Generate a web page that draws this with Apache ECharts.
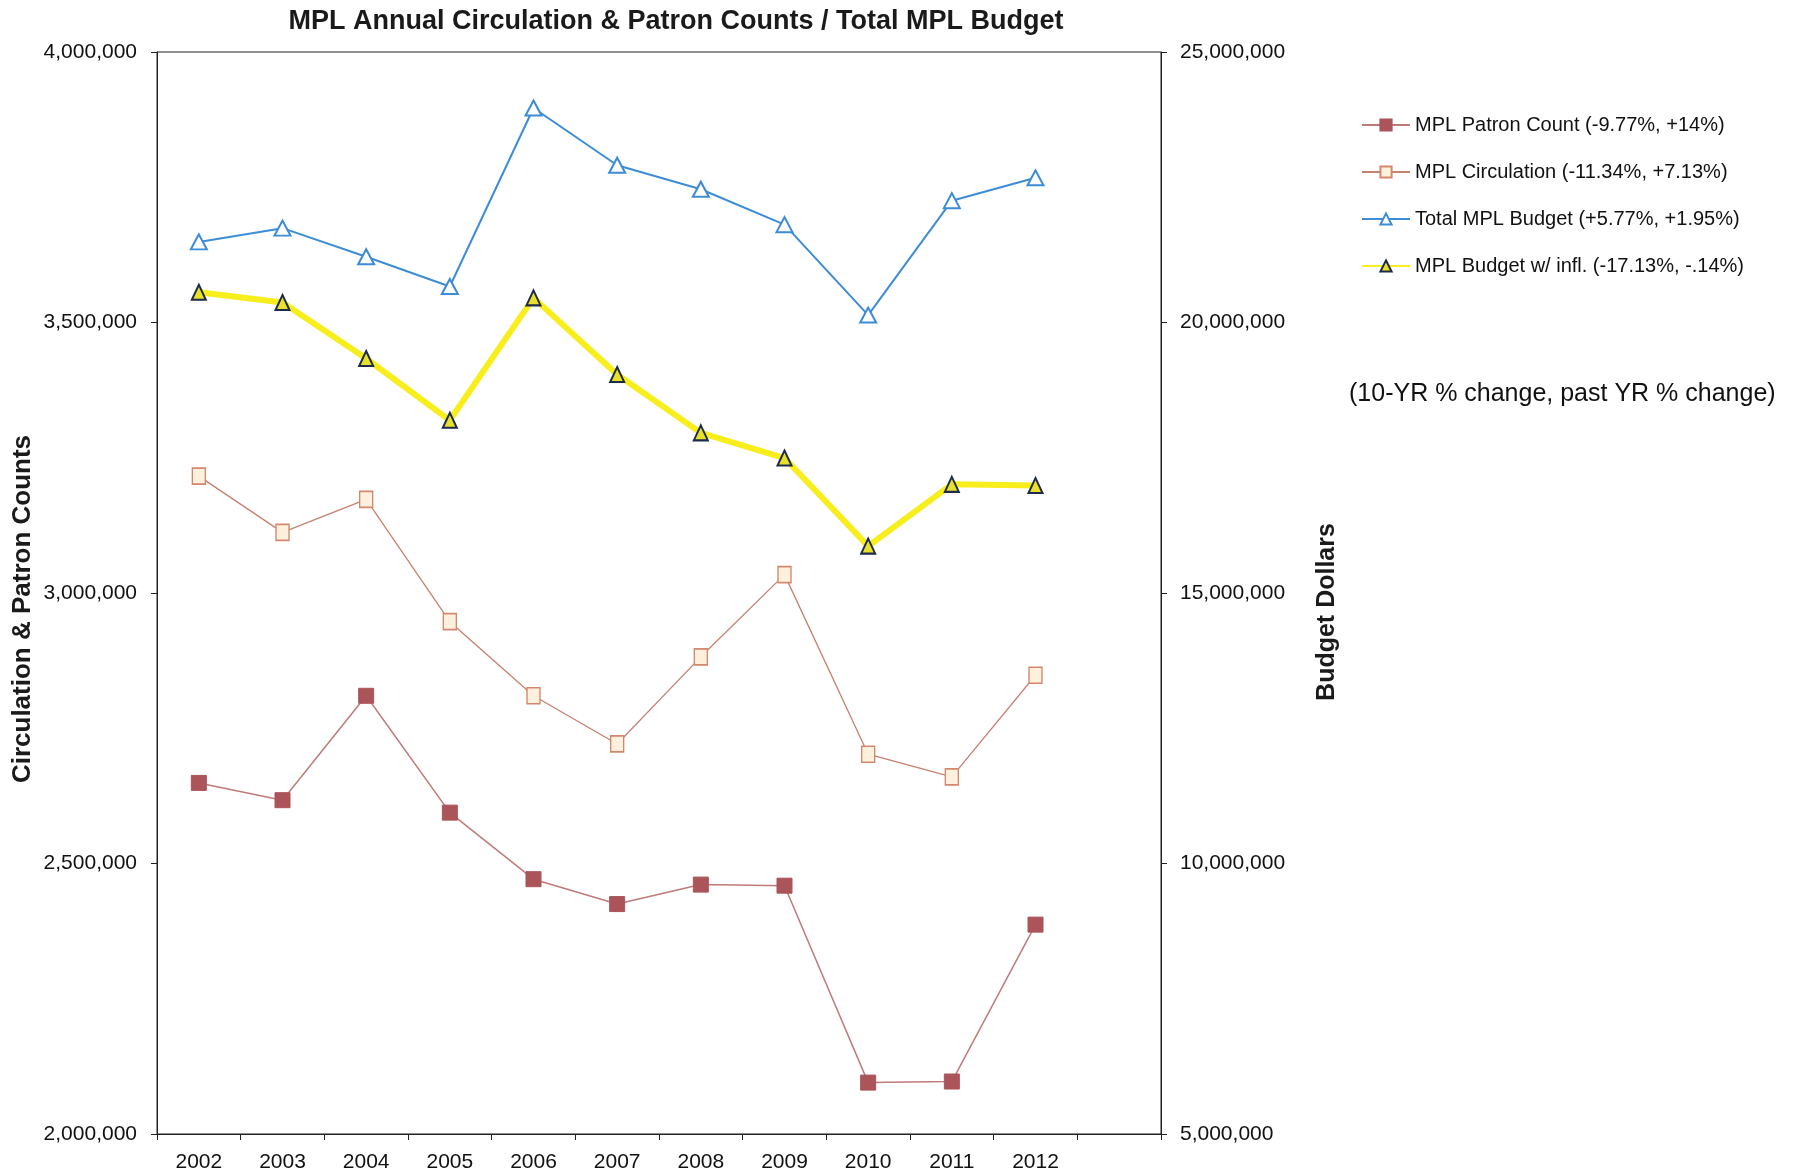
<!DOCTYPE html>
<html>
<head>
<meta charset="utf-8">
<script src="https://cdn.jsdelivr.net/npm/echarts@6/dist/echarts.min.js"></script>
<style>
html,body{margin:0;padding:0;background:#fff;}
#chart{width:1793px;height:1173px;}
</style>
</head>
<body>
<div id="chart"></div>
<script>
const years = ['2002','2003','2004','2005','2006','2007','2008','2009','2010','2011','2012',''];
const patronCount = [2649000,2617000,2810000,2594000,2471000,2425000,2461000,2459000,2095000,2097000,2387000];
const circulation = [3216000,3112000,3173000,2947000,2810000,2721000,2882000,3034000,2702000,2660000,2848000];
const totalBudget = [21490000,21744000,21216000,20666000,23964000,22907000,22463000,21808000,20137000,22252000,22674000];
const budgetInfl = [20560000,20370000,19334000,18192000,20455000,19038000,17960000,17495000,15867000,17008000,16987000];
const seriesNames = ['MPL Patron Count (-9.77%, +14%)','MPL Circulation (-11.34%, +7.13%)','Total MPL Budget (+5.77%, +1.95%)','MPL Budget w/ infl. (-17.13%, -.14%)'];
const leftTicks = [2000000, 4000000, 500000];
const rightTicks = [5000000, 25000000, 5000000];
const leftAxisName = 'Circulation & Patron Counts';
const rightAxisName = 'Budget Dollars';

const fmt = v => v.toLocaleString('en-US');
const chart = echarts.init(document.getElementById('chart'));
const FONT = 'Liberation Sans, Arial, sans-serif';
chart.setOption({
  backgroundColor: '#ffffff',
  animation: false,
  title: {
    text: 'MPL Annual Circulation & Patron Counts / Total MPL Budget',
    left: 671, top: 3, textAlign: 'center',
    textStyle: {fontFamily: FONT, fontSize: 27, fontWeight: 'bold', color: '#1a1a1a'}
  },
  grid: {left: 157, right: 632, top: 52, bottom: 39, outerBoundsMode: 'none', containLabel: false,
         show: true, borderColor: '#222', borderWidth: 1},
  legend: {
    orient: 'vertical', left: 1356, top: 110,
    itemWidth: 48, itemHeight: 14, itemGap: 27,
    data: seriesNames,
    textStyle: {fontFamily: FONT, fontSize: 20, color: '#111'}
  },
  graphic: [{
    type: 'text', left: 1349, top: 382,
    style: {text: '(10-YR % change, past YR % change)', font: '25px Liberation Sans, Arial, sans-serif', fill: '#111'}
  }, {
    type: 'text', x: 23, y: 609, rotation: Math.PI / 2,
    style: {text: leftAxisName, font: 'bold 26px Liberation Sans, Arial, sans-serif', fill: '#1a1a1a',
            align: 'center', verticalAlign: 'middle'}
  }, {
    type: 'text', x: 1327, y: 612, rotation: Math.PI / 2,
    style: {text: rightAxisName, font: 'bold 25px Liberation Sans, Arial, sans-serif', fill: '#1a1a1a',
            align: 'center', verticalAlign: 'middle'}
  }],
  xAxis: {
    type: 'category', data: years, boundaryGap: true,
    axisLine: {lineStyle: {color: '#222', width: 1}},
    axisTick: {show: true, alignWithLabel: false, length: 6, lineStyle: {color: '#222'}},
    axisLabel: {fontFamily: FONT, fontSize: 21, color: '#111', margin: 18, interval: 0}
  },
  yAxis: [{
    type: 'value', min: leftTicks[0], max: leftTicks[1], interval: leftTicks[2],
    axisLine: {show: true, lineStyle: {color: '#222'}},
    axisTick: {show: true, length: 6, lineStyle: {color: '#222'}},
    splitLine: {show: false},
    axisLabel: {fontFamily: FONT, fontSize: 21, color: '#111', margin: 20, formatter: fmt}
  }, {
    type: 'value', min: rightTicks[0], max: rightTicks[1], interval: rightTicks[2], position: 'right',
    axisLine: {show: true, lineStyle: {color: '#222'}},
    axisTick: {show: true, length: 6, lineStyle: {color: '#222'}},
    splitLine: {show: false},
    axisLabel: {fontFamily: FONT, fontSize: 21, color: '#111', margin: 19, formatter: fmt}
  }],
  series: [{
    name: seriesNames[0], type: 'line', yAxisIndex: 0, data: patronCount,
    symbol: 'rect', symbolSize: 15,
    lineStyle: {color: '#c07a78', width: 1.5},
    itemStyle: {color: '#ab5459', borderColor: '#ab5459', borderWidth: 1}
  }, {
    name: seriesNames[1], type: 'line', yAxisIndex: 0, data: circulation,
    symbol: 'rect', symbolSize: [13, 16],
    lineStyle: {color: '#c8806f', width: 1.3},
    itemStyle: {color: '#fdf1de', borderColor: '#d4876c', borderWidth: 1.5}
  }, {
    name: seriesNames[2], type: 'line', yAxisIndex: 1, data: totalBudget,
    symbol: 'triangle', symbolSize: [16, 15],
    lineStyle: {color: '#3d8cd6', width: 2},
    itemStyle: {color: '#ffffff', borderColor: '#3d8cd6', borderWidth: 2}
  }, {
    name: seriesNames[3], type: 'line', yAxisIndex: 1, data: budgetInfl,
    symbol: 'triangle', symbolSize: [14, 15],
    lineStyle: {color: '#f7ee1c', width: 6},
    itemStyle: {color: '#e8e02a', borderColor: '#1d2a4a', borderWidth: 2}
  }]
});
</script>
</body>
</html>
